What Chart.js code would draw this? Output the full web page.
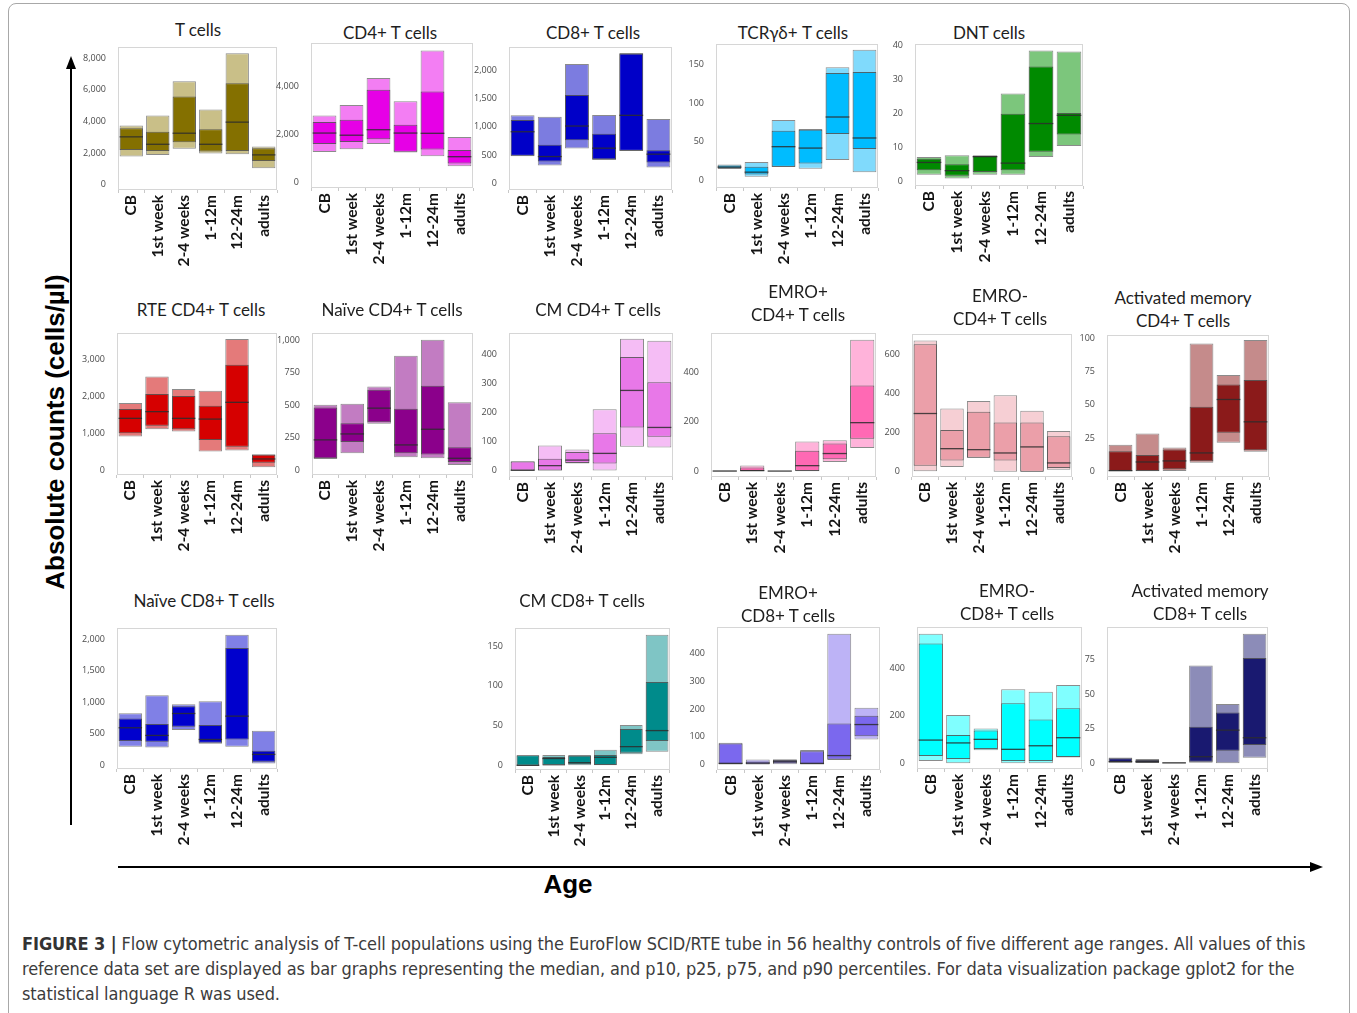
<!DOCTYPE html>
<html>
<head>
<meta charset="utf-8">
<title>Figure 3</title>
<script src="https://cdn.jsdelivr.net/npm/chart.js@4.4.1/dist/chart.umd.min.js"></script>
<style>
  body { margin: 0; background: #fff; width: 1357px; height: 1013px; overflow: hidden; position: relative; font-family: Lato, "Open Sans", sans-serif; }
  .frame { position: absolute; left: 8px; top: 3px; width: 1340px; height: 1030px; border: 1px solid #a8a8a8; border-radius: 8px; }
  .title { position: absolute; transform: translateX(-50%); text-align: center; white-space: nowrap; font-size: 17px; line-height: 23px; color: #1e1e1e; }
  canvas { position: absolute; }
  .ylab { position: absolute; left: 55px; top: 432px; transform: translate(-50%, -50%) rotate(-90deg); white-space: nowrap;
          font-family: "Liberation Sans", Arial, sans-serif; font-weight: bold; font-size: 26px; color: #000; }
  .xlab { position: absolute; left: 568px; top: 884px; transform: translate(-50%, -50%);
          font-family: "Liberation Sans", Arial, sans-serif; font-weight: bold; font-size: 26px; color: #000; }
  .caption { position: absolute; left: 22px; top: 931px; width: 1320px; font-family: "Liberation Sans Narrow", "DejaVu Sans Condensed", sans-serif;
             font-size: 18px; line-height: 25px; letter-spacing: -0.1px; color: #3c3c3c; }
  .caption b { color: #333; }
  svg { position: absolute; left: 0; top: 0; }
</style>
</head>
<body>
<div class="frame"></div>
<svg width="1357" height="1013">
  <line x1="71" y1="825" x2="71" y2="66" stroke="#000" stroke-width="2"/>
  <polygon points="71,56 66,69 76,69" fill="#000"/>
  <line x1="118" y1="867" x2="1312" y2="867" stroke="#000" stroke-width="2"/>
  <polygon points="1323,867 1310,862 1310,872" fill="#000"/>
</svg>
<div class="ylab">Absolute counts (cells/µl)</div>
<div class="xlab">Age</div>
<div class="caption"><b>FIGURE 3 |</b> Flow cytometric analysis of T-cell populations using the EuroFlow SCID/RTE tube in 56 healthy controls of five different age ranges. All values of this<br>reference data set are displayed as bar graphs representing the median, and p10, p25, p75, and p90 percentiles. For data visualization package gplot2 for the<br>statistical language R was used.</div>

<script>
// age groups on every x axis
const ages = ["CB", "1st week", "2-4 weeks", "1-12m", "12-24m", "adults"];

// each row: [p10, p25, median, p75, p90] per age group
const tCells = [[1770, 2190, 3020, 3570, 3730], [1880, 2130, 2550, 3350, 4370], [2260, 2680, 3250, 5570, 6540],
                [1960, 2090, 2550, 3500, 4750], [1920, 2130, 3950, 6410, 8310], [1030, 1500, 1880, 2300, 2410]];
const cd4Cells = [[1270, 1600, 2060, 2520, 2800], [1380, 1690, 1970, 2620, 3230], [1600, 1800, 2200, 3870, 4360],
                  [1250, 1280, 2060, 2410, 3390], [1090, 1370, 2050, 3800, 5520], [670, 790, 1070, 1350, 1900]];
const cd8Cells = [[480, 485, 911, 1118, 1201], [314, 385, 473, 680, 1178], [615, 763, 1012, 1562, 2107],
                  [414, 426, 621, 876, 1207], [570, 575, 1201, 2290, 2302], [278, 367, 515, 586, 1136]];
const tcrgdCells = [[15, 16, 17.5, 19.5, 21], [5, 8, 11, 18, 24], [17.5, 18, 43.8, 64.4, 78],
                    [15.5, 22.3, 42, 65.5, 66.5], [26.6, 60, 82, 138.6, 146], [11, 40.8, 55, 140, 168.7]];
const dntCells = [[2.1, 3.4, 5.7, 6.8, 7.3], [1.0, 1.8, 3.3, 5.2, 7.8], [2.1, 2.9, 7.4, 7.6, 7.8],
                  [2.1, 3.4, 5.5, 20, 25.9], [7.3, 8.8, 17.1, 33.8, 38.5], [10.5, 13.9, 19.5, 20.2, 38.2]];
const rteCd4 = [[920, 1010, 1410, 1660, 1820], [1120, 1210, 1590, 2060, 2530], [1060, 1120, 1410, 2010, 2200],
                [520, 830, 1390, 1750, 2150], [550, 650, 1840, 2850, 3540], [100, 220, 320, 430, 450]];
const naiveCd4 = [[85, 90, 232, 482, 503], [129, 216, 278, 361, 510], [356, 369, 477, 619, 644],
                  [98, 129, 193, 472, 881], [90, 119, 314, 649, 1005], [39, 62, 90, 175, 523]];
const cmCd4 = [[0, 0.5, 1, 31, 32], [0, 0.5, 17, 41, 86], [24, 26, 36, 64, 72],
               [0, 24, 59, 128, 210], [82, 148, 275, 390, 452], [79, 116, 148, 303, 445]];
const emroPosCd4 = [[0, 0.5, 1, 2, 3], [0, 1, 3, 15, 24], [0, 0.5, 1, 1.5, 2],
                    [0, 1, 23, 83, 121], [38, 49, 72, 113, 126], [94, 132, 197, 347, 533]];
const emroNegCd4 = [[2, 31, 298, 653, 672], [24, 58, 118, 213, 324], [72, 72, 113, 307, 362],
                    [0, 58, 96, 252, 391], [0, 0.5, 127, 252, 312], [10, 19, 45, 182, 209]];
const actMemCd4 = [[0, 0.2, 0.5, 15, 20], [0, 0.3, 7, 12.3, 28.4], [0.3, 1.5, 7.8, 16.3, 17.8],
                   [6.5, 7.5, 13.8, 48.5, 96.2], [21.4, 28.9, 54, 65.3, 72.4], [14.6, 15.8, 37.2, 68.6, 98.7]];
const naiveCd8 = [[291, 381, 593, 741, 825], [280, 370, 471, 651, 1111], [556, 608, 820, 937, 968],
                  [339, 354, 407, 635, 1016], [291, 407, 778, 1862, 2074], [26, 53, 169, 228, 545]];
const cmCd8 = [[0, 0.2, 0.4, 13, 13.2], [0, 1, 9, 11, 13.5], [0.4, 1.7, 3.8, 12.6, 13.4],
               [0.4, 0.8, 10.5, 13.4, 20], [14.2, 16.3, 23.9, 46, 51], [17.6, 31, 44, 105, 164]];
const emroPosCd8 = [[0, 1, 4, 76, 78], [0, 1, 5, 11, 18], [1, 4, 10, 16, 19],
                    [0, 1, 4, 48, 52], [16, 18, 32, 148, 472], [90, 102, 144, 176, 205]];
const emroNegCd8 = [[10, 31, 98, 505, 547], [0, 18, 86, 119, 204], [55, 60, 101, 138, 147],
                    [0, 10, 59, 253, 312], [0, 10, 74, 185, 302], [24, 27, 108, 232, 330]];
const actMemCd8 = [[0.5, 0.7, 1.2, 3.6, 4.3], [0.2, 0.5, 1.2, 2.4, 3.1], [0, 0.2, 0.3, 0.5, 0.7],
                   [0.5, 1.2, 4.8, 26.4, 70.7], [0, 9.1, 24, 36.8, 43], [4.1, 13.2, 18.5, 76.2, 93.8]];

// y tick values per panel
const ticks8000 = [0, 2000, 4000, 6000, 8000];
const ticks4000 = [0, 2000, 4000];
const ticks2000 = [0, 500, 1000, 1500, 2000];
const ticks150 = [0, 50, 100, 150];
const ticks40 = [0, 10, 20, 30, 40];
const ticks3000 = [0, 1000, 2000, 3000];
const ticks1000 = [0, 250, 500, 750, 1000];
const ticks400 = [0, 100, 200, 300, 400];
const ticks400b = [0, 200, 400];
const ticks600 = [0, 200, 400, 600];
const ticks100 = [0, 25, 50, 75, 100];
const ticks75 = [0, 25, 50, 75];

// layout: plot box [left, top, right, bottom] in page pixels, y range, colours, title
const panels = [
  { rows: tCells, ticks: ticks8000, range: [-340, 8700], box: [118, 47, 277, 190], dark: "#847000", light: "#c9bf88", title: ["T cells"], tx: 198, ty: 30 },
  { rows: cd4Cells, ticks: ticks4000, range: [-240, 5830], box: [311, 43, 473, 188], dark: "#e600e6", light: "#f37ef3", title: ["CD4+ T cells"], tx: 390, ty: 33 },
  { rows: cd8Cells, ticks: ticks2000, range: [-118, 2408], box: [509, 47, 672, 190], dark: "#0000c8", light: "#7c7ce0", title: ["CD8+ T cells"], tx: 593, ty: 33 },
  { rows: tcrgdCells, ticks: ticks150, range: [-9.4, 176], box: [716, 44, 878, 188], dark: "#00bcff", light: "#80dafc", title: ["TCRγδ+ T cells"], tx: 793, ty: 33 },
  { rows: dntCells, ticks: ticks40, range: [-1.2, 40.4], box: [915, 44, 1083, 186], dark: "#008a00", light: "#7cc67c", title: ["DNT cells"], tx: 989, ty: 33 },
  { rows: rteCd4, ticks: ticks3000, range: [-110, 3700], box: [117, 333, 277, 475], dark: "#d60000", light: "#e47a7a", title: ["RTE CD4+ T cells"], tx: 201, ty: 310 },
  { rows: naiveCd4, ticks: ticks1000, range: [-39, 1057], box: [312, 333, 473, 475], dark: "#8b008b", light: "#c27cc2", title: ["Naïve CD4+ T cells"], tx: 392, ty: 310 },
  { rows: cmCd4, ticks: ticks400, range: [-22, 472], box: [509, 333, 673, 477], dark: "#e878e8", light: "#f5bdf5", title: ["CM CD4+ T cells"], tx: 598, ty: 310 },
  { rows: emroPosCd4, ticks: ticks400b, range: [-23, 560], box: [711, 333, 876, 477], dark: "#ff69b4", light: "#ffb3da", title: ["EMRO+", "CD4+ T cells"], tx: 798, ty: 292 },
  { rows: emroNegCd4, ticks: ticks600, range: [-27, 705], box: [912, 334, 1072, 477], dark: "#eb9fa9", light: "#f6cfd4", title: ["EMRO-", "CD4+ T cells"], tx: 1000, ty: 296 },
  { rows: actMemCd4, ticks: ticks100, range: [-4.3, 102.5], box: [1107, 335, 1269, 477], dark: "#8b1a1a", light: "#c58b8b", title: ["Activated memory", "CD4+ T cells"], tx: 1183, ty: 298 },
  { rows: naiveCd8, ticks: ticks2000, range: [-63, 2180], box: [117, 628, 277, 769], dark: "#0000cd", light: "#8080e6", title: ["Naïve CD8+ T cells"], tx: 204, ty: 601 },
  { rows: cmCd8, ticks: ticks150, range: [-5.4, 172.6], box: [515, 628, 670, 770], dark: "#008b8b", light: "#7fc5c5", title: ["CM CD8+ T cells"], tx: 582, ty: 601 },
  { rows: emroPosCd8, ticks: ticks400, range: [-20, 496], box: [717, 627, 880, 770], dark: "#7b68ee", light: "#bdb3f6", title: ["EMRO+", "CD8+ T cells"], tx: 788, ty: 593 },
  { rows: emroNegCd8, ticks: ticks400b, range: [-24, 575], box: [917, 627, 1082, 769], dark: "#00ffff", light: "#80ffff", title: ["EMRO-", "CD8+ T cells"], tx: 1007, ty: 591 },
  { rows: actMemCd8, ticks: ticks75, range: [-4.1, 98.6], box: [1107, 627, 1268, 769], dark: "#191970", light: "#8c8cb8", title: ["Activated memory", "CD8+ T cells"], tx: 1200, ty: 591 }
];

const Y_AXIS_W = 50;
const X_AXIS_H = 95;
const PAD = 3;

// draws the median line of every bar and the light frame round the plot area
const medianPlugin = {
  id: "medianLine",
  afterDatasetsDraw(chart, args, opts) {
    const ctx = chart.ctx;
    const yScale = chart.scales.y;
    const meta = chart.getDatasetMeta(0);
    ctx.save();
    ctx.strokeStyle = "rgba(45,45,45,0.85)";
    ctx.lineWidth = 1.3;
    meta.data.forEach((bar, i) => {
      const py = yScale.getPixelForValue(opts.values[i]);
      ctx.beginPath();
      ctx.moveTo(bar.x - bar.width / 2, py);
      ctx.lineTo(bar.x + bar.width / 2, py);
      ctx.stroke();
    });
    const a = chart.chartArea;
    ctx.strokeStyle = "#d6d6d6";
    ctx.lineWidth = 1;
    ctx.strokeRect(a.left + 0.5, a.top + 0.5, a.right - a.left - 1, a.bottom - a.top - 1);
    ctx.restore();
  }
};

function addTitle(p) {
  const div = document.createElement("div");
  div.className = "title";
  div.style.left = p.tx + "px";
  div.style.top = (p.ty - 12) + "px";
  div.innerHTML = p.title.join("<br>");
  document.body.appendChild(div);
}

function makePanel(p) {
  const [l, t, r, b] = p.box;
  const w = (r - l) + Y_AXIS_W + PAD;
  const h = (b - t) + PAD + X_AXIS_H;
  const cv = document.createElement("canvas");
  cv.width = w;
  cv.height = h;
  cv.style.left = (l - Y_AXIS_W) + "px";
  cv.style.top = (t - PAD) + "px";
  cv.style.width = w + "px";
  cv.style.height = h + "px";
  document.body.appendChild(cv);

  new Chart(cv, {
    type: "bar",
    data: {
      labels: ages,
      datasets: [
        {
          data: p.rows.map(v => [v[1], v[3]]),
          backgroundColor: p.dark,
          borderColor: "rgba(60,60,60,0.75)",
          borderWidth: 1,
          borderSkipped: false,
          grouped: false,
          barPercentage: 0.88,
          categoryPercentage: 1
        },
        {
          data: p.rows.map(v => [v[0], v[4]]),
          backgroundColor: p.light,
          borderColor: "rgba(110,110,110,0.8)",
          borderWidth: 1,
          borderSkipped: false,
          grouped: false,
          barPercentage: 0.88,
          categoryPercentage: 1
        }
      ]
    },
    options: {
      responsive: false,
      animation: false,
      layout: { padding: { top: PAD, right: PAD, left: 0, bottom: 0 } },
      plugins: {
        legend: { display: false },
        tooltip: { enabled: false },
        medianLine: { values: p.rows.map(v => v[2]) }
      },
      scales: {
        x: {
          offset: true,
          grid: { display: true, drawOnChartArea: false, drawTicks: true, tickLength: 3, color: "#c8c8c8" },
          border: { display: false },
          ticks: {
            minRotation: 90, maxRotation: 90, autoSkip: false, padding: 2,
            color: "#141414",
            font: { family: "Lato, 'Open Sans', sans-serif", size: 15.5, weight: "bold" }
          },
          afterFit: (scale) => { scale.height = X_AXIS_H; scale.paddingLeft = 0; scale.paddingRight = 0; }
        },
        y: {
          min: p.range[0],
          max: p.range[1],
          grid: { display: false },
          border: { display: false },
          afterBuildTicks: (scale) => { scale.ticks = p.ticks.map(v => ({ value: v })); },
          ticks: {
            padding: 4,
            color: "#4a4a4a",
            font: { family: "'Open Sans', sans-serif", size: 9 },
            callback: (v) => Number(v).toLocaleString("en-US")
          },
          afterFit: (scale) => { scale.width = Y_AXIS_W; scale.paddingTop = 0; scale.paddingBottom = 0; }
        }
      }
    },
    plugins: [medianPlugin]
  });
}

panels.forEach(p => { addTitle(p); makePanel(p); });
</script>
</body>
</html>
